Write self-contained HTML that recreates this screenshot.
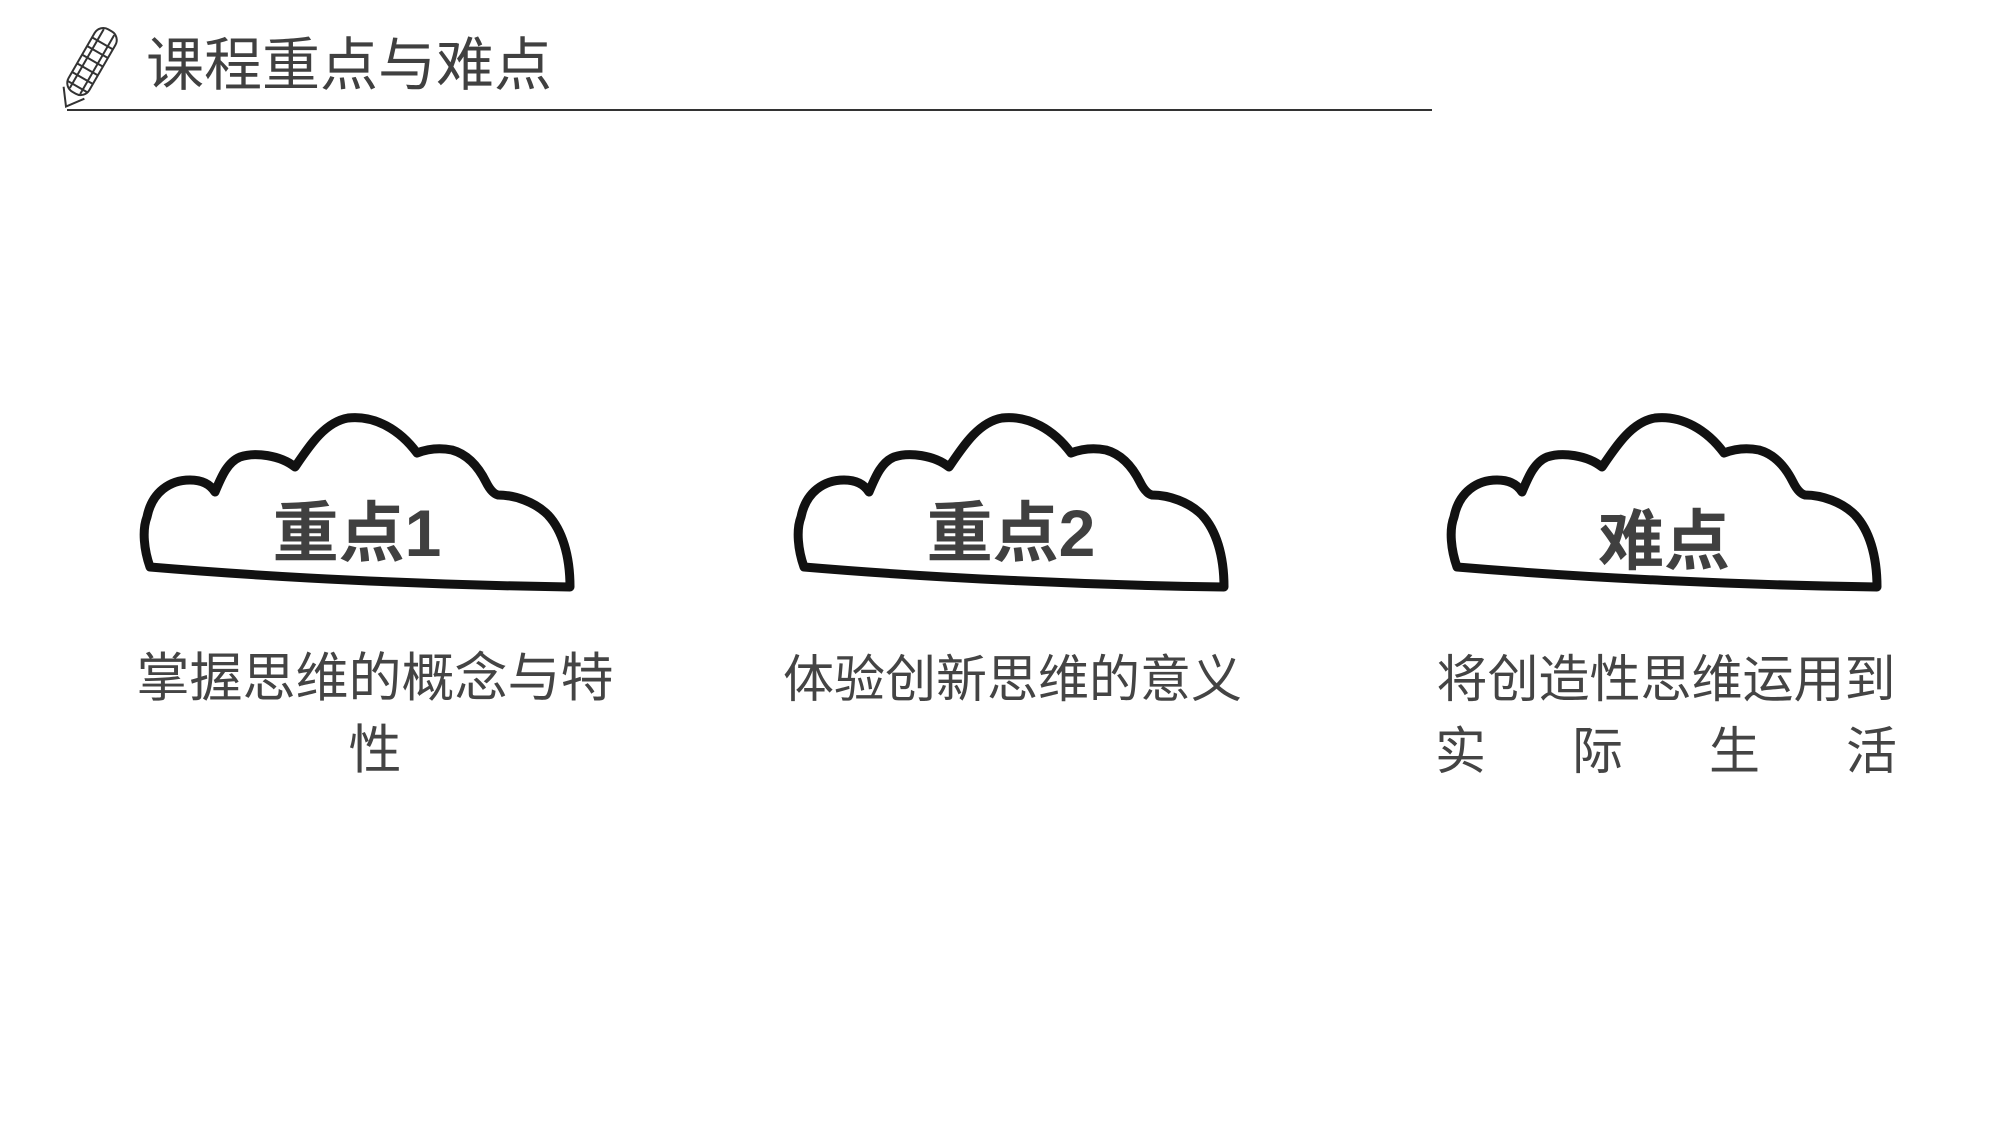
<!DOCTYPE html>
<html><head><meta charset="utf-8"><style>
html,body{margin:0;padding:0;background:#fff;}
body{width:2000px;height:1125px;position:relative;overflow:hidden;font-family:"Liberation Sans","Noto Sans CJK SC",sans-serif;}
.t{position:absolute;color:#404040;white-space:nowrap;}
.d{position:absolute;color:#444;font-size:51px;line-height:72px;}
.row{display:flex;justify-content:space-between;}
</style></head><body>
<svg width="2000" height="1125" style="position:absolute;left:0;top:0">
<defs>
<path id="cl" d="M20,167 C14,150 12,130 17,117 C22,92 40,80 60,80 C72,80 80,84 85,92 C92,75 98,62 110,57 C125,52 150,55 165,67 C180,45 195,22 218,18 C245,15 270,30 287,53 C300,48 312,48 322,50 C340,55 350,70 356,82 C360,90 364,94 368,95 C385,95 405,102 418,115 C432,130 440,155 440,187 C300,185 150,178 20,167 Z"/>
</defs>
<g fill="#fff" stroke="#111" stroke-width="9" stroke-linejoin="round">
<use href="#cl" transform="translate(130,400)"/>
<use href="#cl" transform="translate(784,400)"/>
<use href="#cl" transform="translate(1437,400)"/>
</g>
<line x1="67" y1="110" x2="1432" y2="110" stroke="#333" stroke-width="2"/>
<g transform="translate(90,65) rotate(30)" stroke="#333" fill="none" stroke-width="2">
<rect x="-12" y="-40" width="24" height="72" rx="10"/>
<path d="M-12,32 L0,48 L12,32"/>
<path d="M-12,-25 H12 M-12,-15 H12 M-12,-5 H12 M-12,5 H12 M-12,15 H12 M-12,25 H12 M-6,-38 V30 M6,-38 V30"/>
</g>
</svg>
<div class="t" style="left:146px;top:30px;font-size:58px;line-height:72px;color:#404040">课程重点与难点</div>
<div class="t" style="left:257px;top:495px;width:200px;text-align:center;font-size:66px;font-weight:bold;line-height:76px">重点1</div>
<div class="t" style="left:911px;top:495px;width:200px;text-align:center;font-size:66px;font-weight:bold;line-height:76px">重点2</div>
<div class="t" style="left:1564px;top:503px;width:200px;text-align:center;font-size:66px;font-weight:bold;line-height:76px">难点</div>
<div class="d" style="left:125px;top:643px;width:500px;text-align:center;font-size:53px">掌握思维的概念与特<br>性</div>
<div class="d" style="left:780px;top:644px;width:465px;text-align:center">体验创新思维的意义</div>
<div class="d" style="left:1435px;top:644px;width:462px">
<div style="text-align:center;white-space:nowrap">将创造性思维运用到</div>
<div class="row"><span>实</span><span>际</span><span>生</span><span>活</span></div>
</div>
</body></html>
